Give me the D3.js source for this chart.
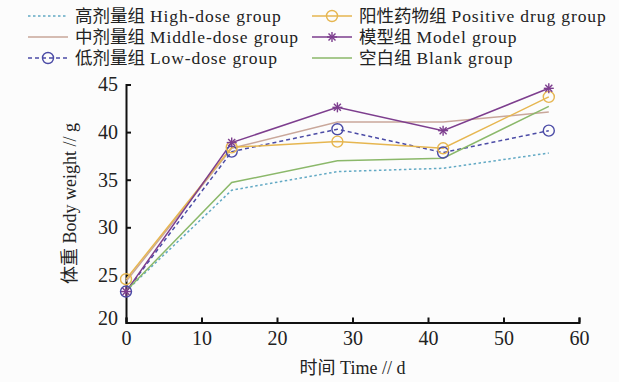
<!DOCTYPE html>
<html>
<head>
<meta charset="utf-8">
<script src="https://cdn.jsdelivr.net/npm/d3@7"></script>
<style>
  body { margin: 0; background: #fcfcfc; }
  svg { display: block; }
  text { font-family: "Liberation Serif", "Noto Sans CJK SC", serif; fill: #222; }
</style>
</head>
<body>
<div id="chart"></div>
<script>
const days = [0, 14, 28, 42, 56];
const highDose   = [23.3, 33.9, 35.85, 36.2, 37.8];
const middleDose = [24.3, 38.3, 41.05, 41.05, 42.1];
const lowDose    = [23.25, 37.95, 40.3, 37.85, 40.15];
const positive   = [24.55, 38.4, 39.0, 38.3, 43.7];
const model      = [23.25, 38.9, 42.6, 40.15, 44.6];
const blank      = [23.3, 34.7, 37.0, 37.25, 42.7];

const xTicks = [0, 10, 20, 30, 40, 50, 60];
const yTicks = [20, 25, 30, 35, 40, 45];

const series = [
  { cn: "高剂量组", en: "High-dose group", values: highDose, color: "#62a9c4", dash: "2.5,2.5", marker: null, col: 0, row: 0 },
  { cn: "中剂量组", en: "Middle-dose group", values: middleDose, color: "#c9a79a", dash: null, marker: null, col: 0, row: 1 },
  { cn: "低剂量组", en: "Low-dose group", values: lowDose, color: "#4b4ba6", dash: "4,3", marker: "circle", col: 0, row: 2 },
  { cn: "阳性药物组", en: "Positive drug group", values: positive, color: "#e6b650", dash: null, marker: "circle", col: 1, row: 0 },
  { cn: "模型组", en: "Model group", values: model, color: "#7d3e8e", dash: null, marker: "star", col: 1, row: 1 },
  { cn: "空白组", en: "Blank group", values: blank, color: "#8bb86a", dash: null, marker: null, col: 1, row: 2 }
];

const W = 619, H = 382;

const svg = d3.select("#chart").append("svg")
  .attr("width", W).attr("height", H);

const x = d3.scaleLinear().domain([0, 60]).range([126, 579]);
const y = d3.scaleLinear().domain([20, 45]).range([322.5, 84.5]);

// axes
const xAxis = svg.append("g")
  .attr("transform", `translate(0,${y(20)})`)
  .call(d3.axisBottom(x).tickValues(xTicks).tickSize(-5).tickPadding(10));
const yAxis = svg.append("g")
  .attr("transform", `translate(${x(0)},0)`)
  .call(d3.axisLeft(y).tickValues(yTicks).tickSize(-5).tickPadding(8));

[xAxis, yAxis].forEach(a => {
  a.select(".domain").attr("stroke", "#111").attr("stroke-width", 2);
  a.selectAll(".tick line").attr("stroke", "#111").attr("stroke-width", 2);
  a.selectAll(".tick text")
    .style("font-family", "Liberation Serif, serif")
    .style("font-size", "20px")
    .attr("fill", "#222");
});
xAxis.selectAll(".tick text").attr("dy", "0.6em");
yAxis.selectAll(".tick text").attr("dy", "0.32em");
yAxis.selectAll(".tick").filter(d => d === 20).select("text").attr("dy", "0.1em");

// lines
const line = d3.line().x((d, i) => x(days[i])).y(d => y(d));

function drawMarker(g, type, cx, cy, color, r) {
  if (type === "circle") {
    g.append("circle").attr("cx", cx).attr("cy", cy).attr("r", r)
      .attr("fill", "none").attr("stroke", color).attr("stroke-width", 1.4);
  } else if (type === "star") {
    const s = r;
    [[-s, 0, s, 0], [0, -s, 0, s], [-s * 0.7, -s * 0.7, s * 0.7, s * 0.7], [-s * 0.7, s * 0.7, s * 0.7, -s * 0.7]]
      .forEach(p => g.append("line")
        .attr("x1", cx + p[0]).attr("y1", cy + p[1])
        .attr("x2", cx + p[2]).attr("y2", cy + p[3])
        .attr("stroke", color).attr("stroke-width", 1.4));
  }
}

const plot = svg.append("g");
series.forEach(s => {
  plot.append("path")
    .datum(s.values)
    .attr("d", line)
    .attr("fill", "none")
    .attr("stroke", s.color)
    .attr("stroke-width", 1.5)
    .attr("stroke-dasharray", s.dash);
});
series.forEach(s => {
  if (!s.marker) return;
  s.values.forEach((v, i) => drawMarker(plot, s.marker, x(days[i]), y(v), s.color, s.marker === "star" ? 5 : 5.5));
});

// legend
const legend = svg.append("g");
const colX = [28, 312];
const rowY = [16, 37, 58];
series.forEach(s => {
  const lx = colX[s.col], ly = rowY[s.row];
  legend.append("line")
    .attr("x1", lx).attr("x2", lx + 40).attr("y1", ly).attr("y2", ly)
    .attr("stroke", s.color).attr("stroke-width", 1.5)
    .attr("stroke-dasharray", s.dash);
  if (s.marker) drawMarker(legend, s.marker, lx + 20, ly, s.color, s.marker === "star" ? 5 : 5.5);
  const t = legend.append("text")
    .attr("x", lx + 47).attr("y", ly).attr("dy", "0.35em")
    .style("font-size", "17.5px");
  t.append("tspan")
    .text(s.cn);
  t.append("tspan")
    .attr("dx", 5)
    .style("letter-spacing", "0.9px")
    .text(s.en);
});

// axis titles
svg.append("text")
  .attr("x", (x(0) + x(60)) / 2).attr("y", 368)
  .attr("text-anchor", "middle").attr("dy", "0.35em")
  .style("font-size", "18px")
  .text("时间 Time // d");
svg.append("text")
  .attr("transform", `translate(70,${(y(20) + y(45)) / 2}) rotate(-90)`)
  .attr("text-anchor", "middle").attr("dy", "0.35em")
  .style("font-size", "18px")
  .text("体重 Body weight // g");
</script>
</body>
</html>
